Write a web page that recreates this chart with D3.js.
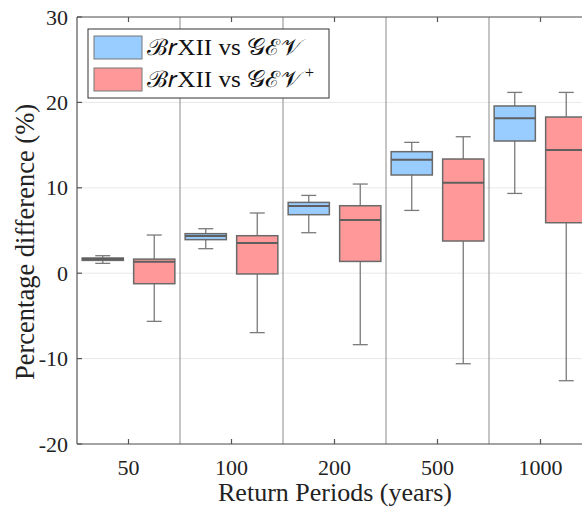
<!DOCTYPE html>
<html><head><meta charset="utf-8">
<script src="https://cdn.jsdelivr.net/npm/d3@7/dist/d3.min.js"></script>
<style>body{margin:0;background:#fff}svg{display:block}</style>
</head><body><svg id="c" width="582" height="507"></svg>
<script>
const categories = ["50","100","200","500","1000"];
const yTicks = [-20,-10,0,10,20,30];
// [min, q1, median, q3, max]
const seriesGEV = [
  [1.15, 1.50, 1.65, 1.78, 2.05],
  [2.87, 3.93, 4.36, 4.63, 5.21],
  [4.74, 6.85, 7.86, 8.29, 9.11],
  [7.35, 11.5, 13.29, 14.23, 15.32],
  [9.34, 15.48, 18.13, 19.58, 21.17]
];
const seriesGEVplus = [
  [-5.64, -1.23, 1.35, 1.65, 4.47],
  [-6.96, -0.09, 3.54, 4.39, 7.05],
  [-8.37, 1.38, 6.23, 7.9, 10.44],
  [-10.6, 3.77, 10.6, 13.37, 15.98],
  [-12.59, 5.91, 14.43, 18.29, 21.17]
];
const seriesNames = ["ℬ𝑟XII vs 𝒢ℰ𝒱", "ℬ𝑟XII vs 𝒢ℰ𝒱"];
const colors = ["#99ccff", "#ff9999"];

const svg = d3.select("#c");
const L = 77, T = 17, B = 444, R = 592;
const x = d3.scaleBand().domain(categories).range([L, R]).padding(0);
const y = d3.scaleLinear().domain([-20, 30]).range([B, T]);
const bw = x.bandwidth();
const font = "'Liberation Serif', 'Times New Roman', serif";

// grid
svg.append("g").selectAll("line").data(yTicks).join("line")
  .attr("x1", L).attr("x2", R).attr("y1", d => y(d)).attr("y2", d => y(d))
  .attr("stroke", "#e8e8e8").attr("stroke-width", 1);

// separators
svg.append("g").selectAll("line").data(categories.slice(1)).join("line")
  .attr("x1", d => x(d)).attr("x2", d => x(d)).attr("y1", T).attr("y2", B)
  .attr("stroke", "#8a8a8a").attr("stroke-width", 1);

// boxes
function drawBoxes(data, idx) {
  const off = (idx === 0 ? -1 : 1) * bw * 0.25;
  const w = bw * 0.4, cap = 15;
  const g = svg.append("g");
  data.forEach((d, i) => {
    const cx = x(categories[i]) + bw / 2 + off;
    const [mn, q1, md, q3, mx] = d;
    const wc = "#7a7a7a";
    g.append("line").attr("x1", cx).attr("x2", cx).attr("y1", y(q3)).attr("y2", y(mx)).attr("stroke", wc).attr("stroke-width", 1.3);
    g.append("line").attr("x1", cx).attr("x2", cx).attr("y1", y(q1)).attr("y2", y(mn)).attr("stroke", wc).attr("stroke-width", 1.3);
    g.append("line").attr("x1", cx - cap/2).attr("x2", cx + cap/2).attr("y1", y(mx)).attr("y2", y(mx)).attr("stroke", wc).attr("stroke-width", 1.3);
    g.append("line").attr("x1", cx - cap/2).attr("x2", cx + cap/2).attr("y1", y(mn)).attr("y2", y(mn)).attr("stroke", wc).attr("stroke-width", 1.3);
    g.append("rect").attr("x", cx - w/2).attr("y", y(q3)).attr("width", w).attr("height", Math.max(y(q1) - y(q3), 0.5))
      .attr("fill", colors[idx]).attr("stroke", "#6a6a6a").attr("stroke-width", 1.5);
    g.append("line").attr("x1", cx - w/2).attr("x2", cx + w/2).attr("y1", y(md)).attr("y2", y(md)).attr("stroke", "#5f5f5f").attr("stroke-width", 2);
  });
}
drawBoxes(seriesGEV, 0);
drawBoxes(seriesGEVplus, 1);

// axes
const ax = svg.append("g").attr("stroke", "#555").attr("stroke-width", 1.2);
ax.append("line").attr("x1", L).attr("x2", L).attr("y1", T).attr("y2", B);
ax.append("line").attr("x1", L).attr("x2", R).attr("y1", B).attr("y2", B);
ax.append("line").attr("x1", L).attr("x2", R).attr("y1", T).attr("y2", T);
yTicks.forEach(t => ax.append("line").attr("x1", L).attr("x2", L + 5).attr("y1", y(t)).attr("y2", y(t)));
categories.forEach(c => {
  const cx = x(c) + bw / 2;
  ax.append("line").attr("x1", cx).attr("x2", cx).attr("y1", B).attr("y2", B - 5);
  ax.append("line").attr("x1", cx).attr("x2", cx).attr("y1", T).attr("y2", T + 5);
});

// tick labels
svg.append("g").selectAll("text").data(yTicks).join("text")
  .attr("x", 68).attr("y", d => y(d) + 7.5).attr("text-anchor", "end")
  .attr("font-family", font).attr("font-size", 22).attr("fill", "#222").text(d => d);
svg.append("g").selectAll("text").data(categories).join("text")
  .attr("x", d => x(d) + bw / 2).attr("y", 475).attr("text-anchor", "middle")
  .attr("font-family", font).attr("font-size", 22).attr("fill", "#222").text(d => d);

// titles
svg.append("text").attr("x", 335).attr("y", 501).attr("text-anchor", "middle")
  .attr("font-family", font).attr("font-size", 26).attr("fill", "#222").text("Return Periods (years)");
svg.append("text").attr("transform", "translate(34,242) rotate(-90)").attr("text-anchor", "middle")
  .attr("font-family", font).attr("font-size", 26.5).attr("fill", "#222").text("Percentage difference (%)");

// legend
const lg = svg.append("g");
lg.append("rect").attr("x", 88).attr("y", 29).attr("width", 241).attr("height", 69)
  .attr("fill", "#fff").attr("stroke", "#333").attr("stroke-width", 1);
seriesNames.forEach((n, i) => {
  const yy = 36 + i * 32;
  lg.append("rect").attr("x", 94).attr("y", yy).attr("width", 48).attr("height", 23)
    .attr("fill", colors[i]).attr("stroke", "#777").attr("stroke-width", 1);
  const t = lg.append("text").attr("x", 147).attr("y", yy + 19)
    .attr("font-family", font).attr("font-size", 22.5).attr("fill", "#111");
  t.append("tspan").attr("textLength", 155).attr("lengthAdjust", "spacingAndGlyphs").text(n);
  if (i === 1) t.append("tspan").attr("x", 305).attr("dy", -9).attr("font-size", 16).text("+");
});
</script></body></html>
